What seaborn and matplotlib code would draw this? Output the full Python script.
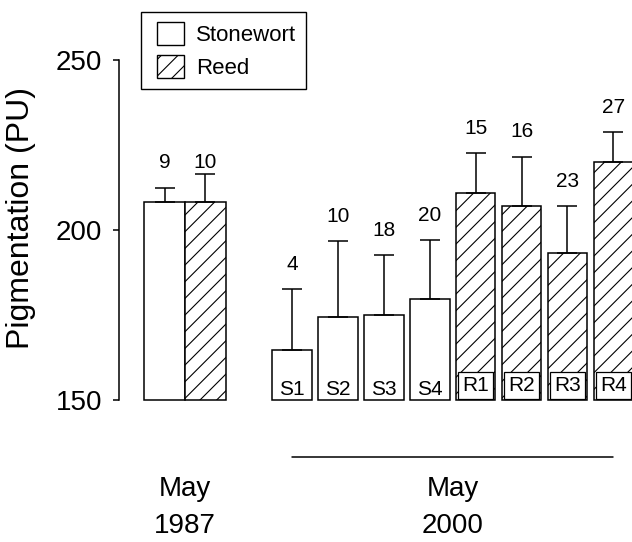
import numpy as np
import pandas as pd
import seaborn as sns
import matplotlib.pyplot as plt
import matplotlib.transforms as mtransforms
from matplotlib.patches import Patch
from matplotlib.legend_handler import HandlerPatch

sns.set_style("ticks")
plt.rcParams["font.family"] = ["Liberation Sans", "DejaVu Sans"]
plt.rcParams["hatch.linewidth"] = 0.8
plt.rcParams["hatch.color"] = "black"
for key in ["text.color", "axes.labelcolor", "xtick.color", "ytick.color"]:
    plt.rcParams[key] = "black"

# May 1987: lake-wide means by habitat
habitat_1987 = ["Stonewort", "Reed"]
mean_1987 = [208.2, 208.2]
upper_1987 = [212.4, 216.3]
n_1987 = [9, 10]

# May 2000: individual sites
sites_2000 = ["S1", "S2", "S3", "S4", "R1", "R2", "R3", "R4"]
habitat_2000 = ["Stonewort"] * 4 + ["Reed"] * 4
mean_2000 = [164.7, 174.4, 174.9, 179.8, 210.9, 207.0, 193.2, 219.9]
upper_2000 = [182.5, 196.7, 192.5, 196.9, 222.5, 221.5, 206.9, 228.7]
n_2000 = [4, 10, 18, 20, 15, 16, 23, 27]

y_ticks = [150, 200, 250]
baseline = 150

# bar positions on a numeric x scale
pos_2000 = np.arange(len(sites_2000), dtype=float)
pos_1987 = np.array([-2.784, -1.894])

df_1987 = pd.DataFrame({"pos": pos_1987, "pigment": mean_1987, "habitat": habitat_1987})
df_2000 = pd.DataFrame({"pos": pos_2000, "pigment": mean_2000, "habitat": habitat_2000})

fig = plt.figure(figsize=(6.32, 5.42), dpi=100)
ax = fig.add_axes([119 / 632, 1 - 401.7 / 542, 1 - 119 / 632, 342.2 / 542])

bar_kw = dict(x="pos", y="pigment", native_scale=True, color="white",
              edgecolor="black", linewidth=1.1, errorbar=None, ax=ax)
sns.barplot(data=df_1987, width=1.0, **bar_kw)
sns.barplot(data=df_2000, width=0.86, **bar_kw)

all_pos = np.concatenate([pos_1987, pos_2000])
all_mean = np.array(mean_1987 + mean_2000)
all_upper = np.array(upper_1987 + upper_2000)
all_habitat = habitat_1987 + habitat_2000

# bars rise from the axis floor; reed bars are hatched
for patch, m, hab in zip(ax.patches, all_mean, all_habitat):
    patch.set_y(baseline)
    patch.set_height(m - baseline)
    if hab == "Reed":
        patch.set_hatch("//")

# one-sided (upper) error bars
ax.errorbar(all_pos, all_mean, yerr=[np.zeros_like(all_mean), all_upper - all_mean],
            fmt="none", ecolor="black", elinewidth=1.1, capsize=7.5, capthick=1.1, zorder=3)

# sample sizes above the error bars
label_base = [min(upper_1987)] * len(n_1987) + upper_2000
for x, yb, n in zip(all_pos, label_base, n_1987 + n_2000):
    ax.annotate(str(n), (x, yb), xytext=(0, 14), textcoords="offset points",
                ha="center", va="baseline", fontsize=15, annotation_clip=False)

# site names at the foot of each 2000 bar (reed sites boxed)
for x, site, hab in zip(pos_2000, sites_2000, habitat_2000):
    if hab == "Reed":
        ax.annotate(site, (x, baseline), xytext=(0, 6.3), textcoords="offset points",
                    ha="center", va="baseline", fontsize=15, zorder=4,
                    bbox=dict(boxstyle="square,pad=0.2", facecolor="white",
                              edgecolor="black", linewidth=0.9))
    else:
        ax.annotate(site, (x, baseline), xytext=(0, 3.6), textcoords="offset points",
                    ha="center", va="baseline", fontsize=15, zorder=4)

# group bracket and period labels below the axis
tr = mtransforms.blended_transform_factory(ax.transData, ax.transAxes)
ax.plot([pos_2000[0], pos_2000[-1]], [-0.1607, -0.1607], color="black", lw=1.1,
        transform=tr, clip_on=False)
ax.text(pos_1987.mean(), -0.216, "May\n1987", transform=tr, ha="center", va="top",
        fontsize=20, linespacing=1.55)
ax.text(pos_2000.mean(), -0.216, "May\n2000", transform=tr, ha="center", va="top",
        fontsize=20, linespacing=1.55)

ax.set_xlim(-3.776, 7.408)
ax.set_ylim(149.5, 250)
ax.set_xticks([])
ax.set_yticks(y_ticks)
ax.set_xlabel("")
ax.set_ylabel("Pigmentation (PU)", fontsize=23)
ax.yaxis.set_label_coords(-0.162, 0.538)
ax.tick_params(axis="y", length=4.3, width=1.1, pad=8, labelsize=20, color="black")
for side in ["top", "right", "bottom"]:
    ax.spines[side].set_visible(False)
ax.spines["left"].set_bounds(150, 250)
ax.spines["left"].set_linewidth(1.1)
ax.spines["left"].set_color("black")
ax.patch.set_alpha(0)

handles = [Patch(facecolor="white", edgecolor="black", linewidth=1.0, label="Stonewort"),
           Patch(facecolor="white", edgecolor="black", linewidth=1.0, hatch="//", label="Reed")]
leg = ax.legend(handles=handles, loc="upper left",
                bbox_to_anchor=(140.7 / 632, 1 - 11.7 / 542), bbox_transform=fig.transFigure,
                borderaxespad=0, fontsize=16, handlelength=1.5, handleheight=1.22,
                handletextpad=0.55, borderpad=0.45, labelspacing=0.42,
                fancybox=False, framealpha=1, edgecolor="black",
                handler_map={Patch: HandlerPatch(xpad=0.3)})
leg.get_frame().set_linewidth(1.0)

fig.savefig("out.png", dpi=100)
